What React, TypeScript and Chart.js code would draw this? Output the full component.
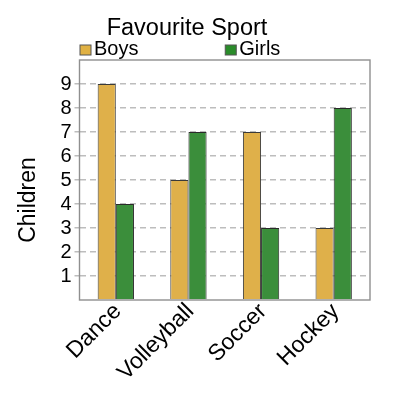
import { useEffect, useRef } from 'react';
import { Chart, registerables } from 'chart.js';

Chart.register(...registerables);

const categories = ['Dance', 'Volleyball', 'Soccer', 'Hockey'];
const boys = [9, 5, 7, 3];
const girls = [4, 7, 3, 8];
const seriesNames = ['Boys', 'Girls'];
const chartTitle = 'Favourite Sport';
const yTitle = 'Children';
const yMin = 0;
const yMax = 10;

const FONT = '"Liberation Sans", Arial, sans-serif';
const BAR_FILLS = ['#DFB04A', '#3B8E3B'];
const KEY_FILLS = ['#E0B143', '#2A8C2A'];

const overlay = {
  id: 'overlay',
  afterDatasetsDraw(chart: any) {
    const { ctx, chartArea } = chart;
    ctx.save();
    ctx.strokeStyle = '#8f8f8f';
    ctx.lineWidth = 1.4;
    ctx.strokeRect(chartArea.left, chartArea.top, chartArea.right - chartArea.left, chartArea.bottom - chartArea.top);
    ctx.restore();
  },
  afterDraw(chart: any) {
    const { ctx, chartArea } = chart;
    ctx.save();
    ctx.fillStyle = '#000';
    ctx.font = `23.5px ${FONT}`;
    ctx.textAlign = 'center';
    ctx.textBaseline = 'alphabetic';
    ctx.fillText(chartTitle, 187, 35);
    ctx.font = `20px ${FONT}`;
    ctx.textAlign = 'left';
    seriesNames.forEach((name, i) => {
      const x0 = i === 0 ? chartArea.left : (chartArea.left + chartArea.right) / 2;
      ctx.fillStyle = KEY_FILLS[i];
      ctx.fillRect(x0 + 0.5, 45, 11, 10);
      ctx.strokeStyle = '#555';
      ctx.lineWidth = 1;
      ctx.strokeRect(x0 + 0.5, 45, 11, 10);
      ctx.fillStyle = '#000';
      ctx.fillText(name, x0 + 14.5, 55);
    });
    ctx.font = `23px ${FONT}`;
    ctx.translate(35, 200);
    ctx.rotate(-Math.PI / 2);
    ctx.textAlign = 'center';
    ctx.fillText(yTitle, 0, 0);
    ctx.restore();
  },
};

export default function App() {
  const ref = useRef<HTMLCanvasElement>(null);
  useEffect(() => {
    if (!ref.current) return;
    const chart = new Chart(ref.current, {
      type: 'bar',
      data: {
        labels: categories,
        datasets: [
          {
            label: seriesNames[0],
            data: boys,
            backgroundColor: BAR_FILLS[0],
            borderColor: '#3a3a3a',
            borderWidth: 1,
            categoryPercentage: 0.5,
            barPercentage: 1,
          },
          {
            label: seriesNames[1],
            data: girls,
            backgroundColor: BAR_FILLS[1],
            borderColor: '#2a2a2a',
            borderWidth: 1,
            categoryPercentage: 0.5,
            barPercentage: 1,
          },
        ],
      },
      options: {
        animation: false,
        responsive: false,
        devicePixelRatio: 1,
        layout: { padding: { top: 60, right: 30, left: 0, bottom: 0 } },
        scales: {
          x: {
            grid: { display: false },
            border: { display: false },
            ticks: {
              color: '#000',
              font: { size: 23, family: FONT },
              minRotation: 45,
              maxRotation: 45,
              autoSkip: false,
              padding: -10,
              labelOffset: 2,
            },
            afterFit: (s: any) => {
              s.height = 100;
            },
          },
          y: {
            min: yMin,
            max: yMax,
            border: { display: false, dash: [6, 4] },
            grid: {
              color: (c: any) =>
                c.tick && (c.tick.value === yMin || c.tick.value === yMax) ? 'rgba(0,0,0,0)' : '#bdbdbd',
              lineWidth: 1.5,
              tickLength: 5,
              tickBorderDash: [6, 4],
            },
            ticks: {
              stepSize: 1,
              autoSkip: false,
              color: '#000',
              padding: 3,
              font: { size: 20, family: FONT },
              callback: (v: any) => (v === yMin || v === yMax ? '' : String(v)),
            },
            afterFit: (s: any) => {
              s.width = 79.5;
            },
          },
        },
        plugins: {
          legend: { display: false },
          title: { display: false },
          tooltip: { enabled: false },
        },
      },
      plugins: [overlay],
    });
    return () => chart.destroy();
  }, []);
  return (
    <div style={{ position: 'fixed', left: 0, top: 0, width: 400, height: 400, background: '#fff' }}>
      <canvas ref={ref} width={400} height={400} style={{ display: 'block' }} />
    </div>
  );
}
